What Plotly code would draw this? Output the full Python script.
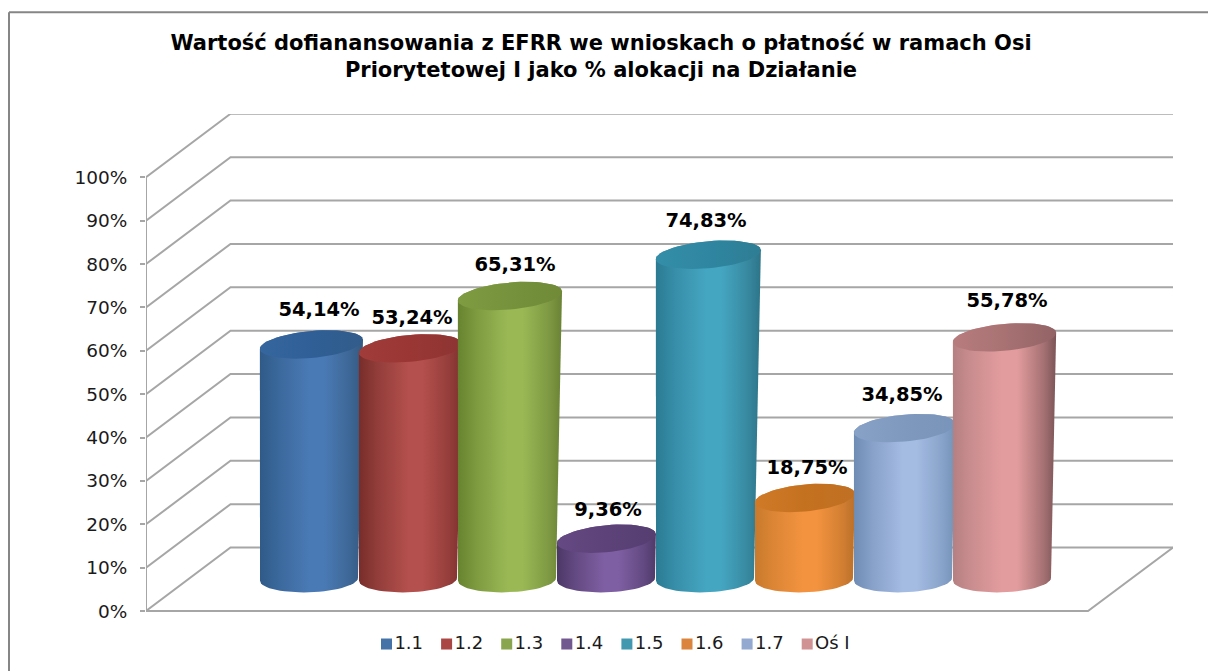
import math
import plotly.graph_objects as go

categories = ["1.1", "1.2", "1.3", "1.4", "1.5", "1.6", "1.7", "Oś I"]
values = [54.14, 53.24, 65.31, 9.36, 74.83, 18.75, 34.85, 55.78]
y_ticks = list(range(0, 101, 10))
title_text = ("Wartość dofianansowania z EFRR we wnioskach o płatność w ramach Osi<br>"
              "Priorytetowej I jako % alokacji na Działanie")

# style: (cap, edge-left, centre, edge-right, legend)
palette = [
    ("#2f5f96", "#2f5a88", "#4a7ab5", "#35597f", "#4572a7"),
    ("#9a3735", "#772d2a", "#b4504d", "#7e302e", "#aa4643"),
    ("#76923c", "#67832f", "#9ab955", "#6a8235", "#89a54e"),
    ("#5c4278", "#4c3766", "#7f5fa3", "#4f3a6a", "#71588f"),
    ("#2f86a0", "#2b7a92", "#45a6c2", "#2d7488", "#4198af"),
    ("#c4711f", "#c87a2c", "#f3933f", "#bb7029", "#db843d"),
    ("#7f98bd", "#6f8cb4", "#a4bbe2", "#7391b6", "#93a9cf"),
    ("#a87273", "#b58082", "#e39c9e", "#7c5457", "#d09293"),
]
label_dx = [8, 2, 6, 0, -1, 1, -3, 3]   # small label nudges in px
label_dy = [33.5, 29.5, 29.5, 27.5, 32.5, 28.5, 32.5, 35.5]

# oblique-projection geometry (pixels on the 1208x671 canvas)
W, H = 1208, 671
AX_L, AX_R, AX_B, AX_T = 146.0, 1173.0, 611.0, 113.7
PX_Y = 4.34
SLOT = 99.0
FIRST = 311.0
xmin = -(FIRST - AX_L) / SLOT
xmax = (AX_R - FIRST) / SLOT
ymin = -(H - AX_B) / PX_Y
ymax = (AX_B - AX_T) / PX_Y
depth_x = 84.5 / SLOT
depth_y = 63.5 / PX_Y
front_right = xmin + (1088 - AX_L) / SLOT
back_left = xmin + depth_x
base_y = depth_y / 2

GRID = "#a6a6a6"
fig = go.Figure()


def mix(c1, c2, f=0.5):
    a = [int(c1[k:k + 2], 16) for k in (1, 3, 5)]
    b = [int(c2[k:k + 2], 16) for k in (1, 3, 5)]
    return "#" + "".join(f"{round(p + (q - p) * f):02x}" for p, q in zip(a, b))


def line(xs, ys, color=GRID, width=2):
    fig.add_trace(go.Scatter(x=xs, y=ys, mode="lines", line=dict(color=color, width=width),
                             hoverinfo="skip", showlegend=False, cliponaxis=False))


for v in y_ticks:
    line([xmin, back_left, xmax], [v, v + depth_y, v + depth_y])
line([xmin, xmin], [0, 100])
line([xmin, front_right, xmax], [0, 0, depth_y])

N = 60
angles = [2 * math.pi * k / N for k in range(N + 1)]
A_BASE, B_BASE, SHEAR_BASE = 49.0, 13.0, 1.5
B_TOP, SHEAR_TOP = 13.5, 4.5


def ellipse_point(cx, cy, a, b, s, t):
    c, d = math.cos(t), math.sin(t)
    return cx + a * c / SLOT, cy + (b * d + s * c) / PX_Y


for i, (name, v, col) in enumerate(zip(categories, values, palette)):
    cap, c_l, c_m, c_r, leg = col
    cx0 = i - 2.0 / SLOT
    a1 = A_BASE + 0.047 * v
    cx1 = cx0 + 0.045 * v / SLOT
    top = base_y + v
    xs, ys = [], []
    for k in range(N // 2 + 1):
        t = math.pi + math.pi * k / (N // 2)      # base, lower half: left to right
        px, py = ellipse_point(cx0, base_y, A_BASE, B_BASE, SHEAR_BASE, t)
        xs.append(px); ys.append(py)
    for k in range(N // 2 + 1):
        t = math.pi * k / (N // 2)                # top, upper half: right to left
        px, py = ellipse_point(cx1, top, a1, B_TOP, SHEAR_TOP, t)
        xs.append(px); ys.append(py)
    xs.append(xs[0]); ys.append(ys[0])
    fig.add_trace(go.Scatter(
        x=xs, y=ys, mode="lines", line=dict(width=0, color=c_l), fill="toself",
        fillgradient=dict(type="horizontal",
                          colorscale=[[0, c_l], [0.18, mix(c_l, c_m, 0.45)], [0.48, c_m], [0.62, c_m],
                                      [0.88, mix(c_r, c_m, 0.4)], [1, c_r]]),
        hoverinfo="skip", showlegend=False, cliponaxis=False))
    pts = [ellipse_point(cx1, top, a1, B_TOP, SHEAR_TOP, t) for t in angles]
    fig.add_trace(go.Scatter(
        x=[p[0] for p in pts], y=[p[1] for p in pts], mode="lines",
        line=dict(width=0, color=cap), fill="toself",
        fillgradient=dict(type="horizontal",
                          colorscale=[[0, mix(cap, c_m, 0.25)], [0.5, cap], [1, mix(cap, c_r, 0.5)]]),
        hoverinfo="skip", showlegend=False, cliponaxis=False))

# data labels
fig.add_trace(go.Scatter(
    x=[i + dx / SLOT for i, dx in enumerate(label_dx)],
    y=[base_y + v + dy / PX_Y for v, dy in zip(values, label_dy)],
    mode="text",
    text=[f"{v:.2f}%".replace(".", ",") for v in values],
    textposition="middle center",
    textfont=dict(family="DejaVu Sans", size=19.5, color="#000000", weight="bold"),
    hoverinfo="skip", showlegend=False, cliponaxis=False))

# legend row: one square + label per category, laid out under the floor
LEG_X0, LEG_STEP, LEG_Y = 386.5, 60.1, 644.0
for i, (name, col) in enumerate(zip(categories, palette)):
    fig.add_trace(go.Scatter(
        x=[(LEG_X0 + LEG_STEP * i - FIRST) / SLOT], y=[(AX_B - LEG_Y) / PX_Y],
        mode="markers+text", name=name, text=[name], textposition="middle right",
        textfont=dict(family="DejaVu Sans", size=18, color="#1a1a1a"),
        marker=dict(symbol="square", size=11, color=col[4]),
        hoverinfo="name", showlegend=False, cliponaxis=False))

# outer frame
fx = lambda p: (p - AX_L) / (AX_R - AX_L)
fy = lambda p: (H - p) / (H - AX_T)
shapes = [
    dict(type="line", xref="paper", yref="paper", x0=fx(9), x1=fx(1210), y0=fy(12), y1=fy(12),
         line=dict(color="#868686", width=2)),
    dict(type="line", xref="paper", yref="paper", x0=fx(9), x1=fx(9), y0=fy(12), y1=fy(675),
         line=dict(color="#868686", width=2)),
]

fig.update_layout(
    width=W, height=H, autosize=False, showlegend=False,
    margin=dict(l=AX_L, r=W - AX_R, t=AX_T, b=0, pad=0),
    paper_bgcolor="white", plot_bgcolor="white",
    font=dict(family="DejaVu Sans", color="#1a1a1a"),
    title=dict(text=title_text, x=fx(601), xref="paper", xanchor="center",
               y=1 - 49.5 / H, yref="container", yanchor="top",
               font=dict(family="DejaVu Sans", size=21, color="#000000", weight="bold")),
    xaxis=dict(range=[xmin, xmax], visible=False, fixedrange=True),
    yaxis=dict(range=[ymin, ymax], tickmode="array", tickvals=y_ticks,
               ticktext=[f"{v}%" for v in y_ticks],
               ticks="outside", ticklen=5, tickwidth=2, tickcolor=GRID,
               ticklabelstandoff=9,
               tickfont=dict(family="DejaVu Sans", size=18.5, color="#1a1a1a"),
               showgrid=False, zeroline=False, showline=False, fixedrange=True),
    shapes=shapes,
)

fig.write_html("out.html", config={"displayModeBar": False},
               post_script="document.body.style.margin='0';document.body.style.overflow='hidden';")
